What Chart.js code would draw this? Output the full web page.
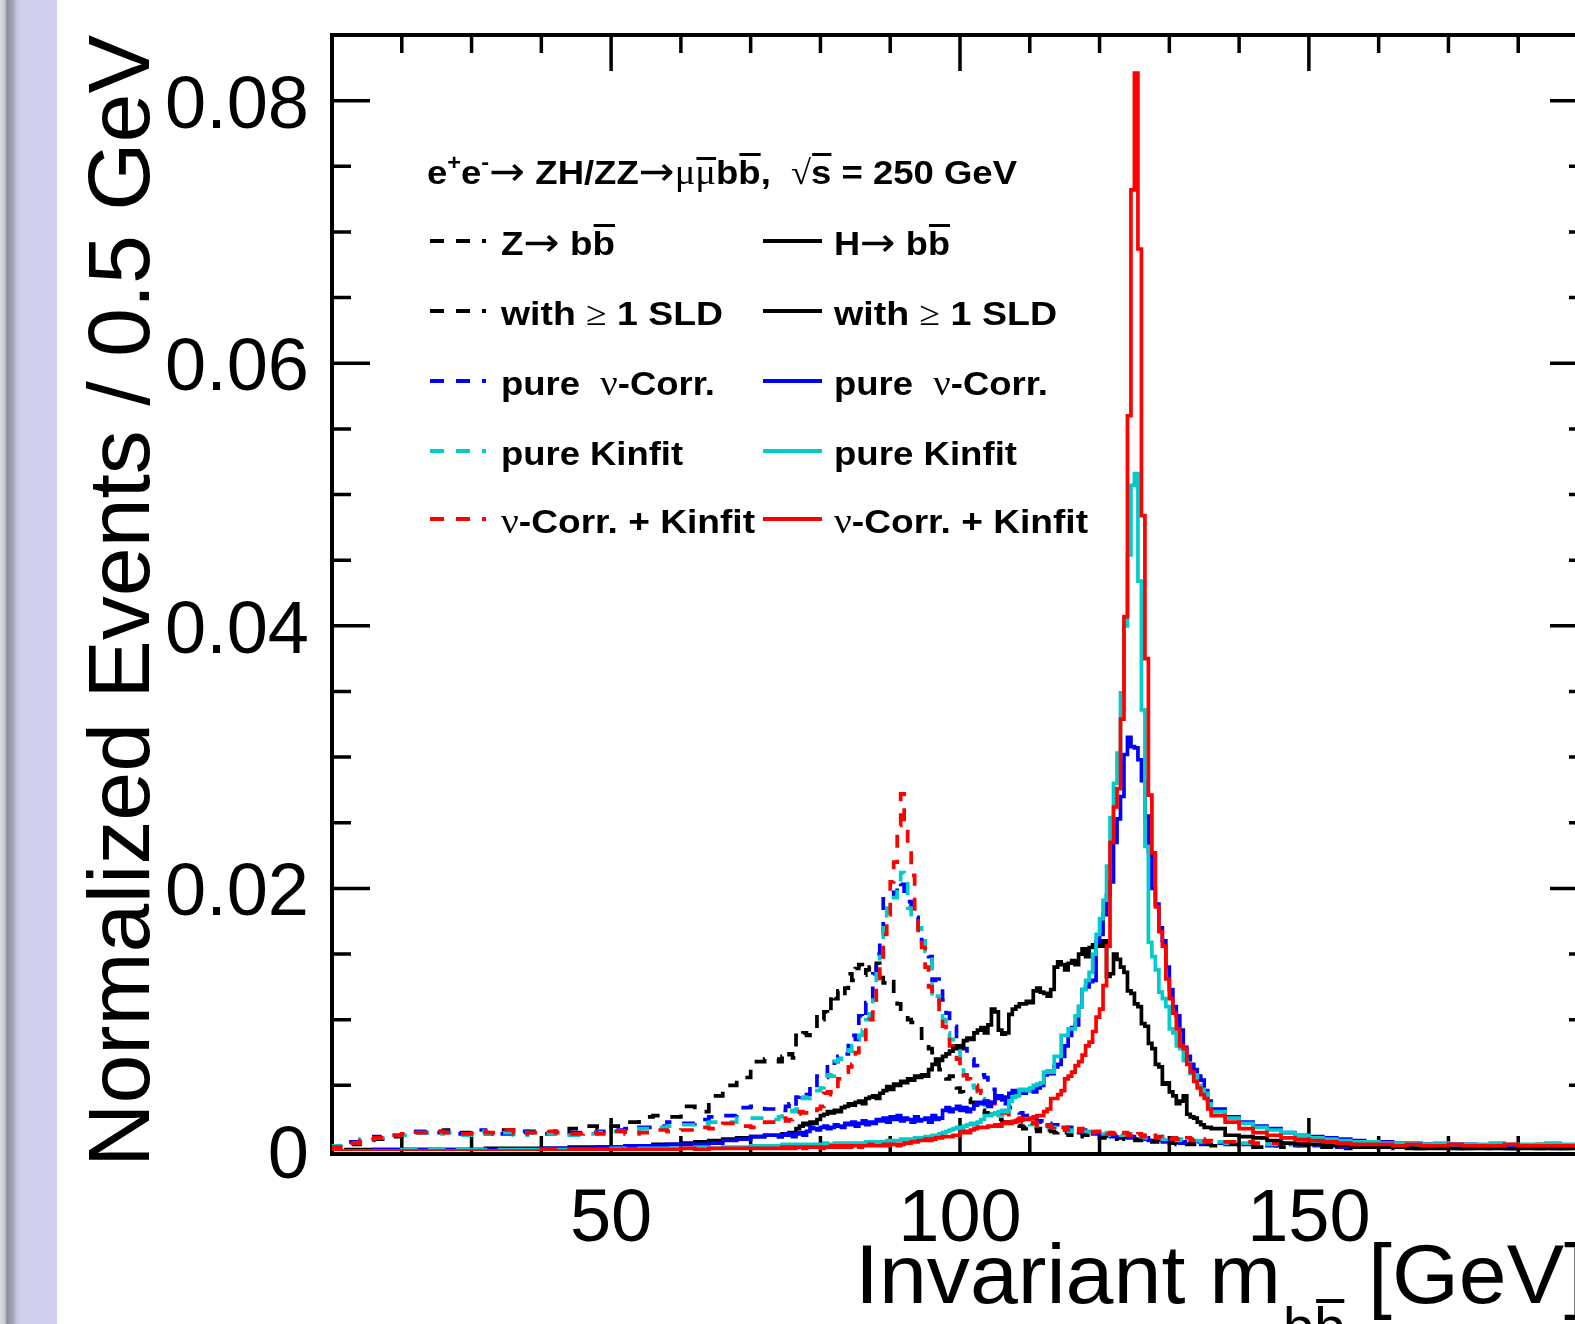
<!DOCTYPE html>
<html><head><meta charset="utf-8">
<script src="https://cdn.jsdelivr.net/npm/chart.js@4/dist/chart.umd.min.js"></script>
<style>
html,body{margin:0;padding:0;background:#fff;overflow:hidden;width:1575px;height:1324px;}
#strip{position:absolute;left:0;top:0;width:57px;height:1324px;background:linear-gradient(to right,#dcdce4 0px,#c8c8d0 5px,#8c8c9a 7px,#a6a6b8 13px,#c6c6e4 17px,#d0d0ee 21px,#d0d0ee 57px);}
#c{position:absolute;left:0;top:0;}
</style></head><body>
<div id="strip"></div>
<canvas id="c" width="1620" height="1324"></canvas>
<script>
// ---------------- data (values in units of 1e-4 per 0.5 GeV) ----------------
const UNIT = 1e-4;
// bin layout: [from, to, width] in GeV
const BIN_SEGMENTS = [[10, 74, 2], [74, 136, 0.5], [136, 190, 2]];
const X_MIN = 10, X_MAX = 190, Y_MAX = 0.085;
const Y_TICK_VALUES = [0, 0.02, 0.04, 0.06, 0.08];
const Y_TICK_LABELS = ['0', '0.02', '0.04', '0.06', '0.08'];
const X_TICK_VALUES = [50, 100, 150];
const X_TICK_LABELS = ['50', '100', '150'];

// Z -> bb, with >= 1 SLD (black dashed)
const zSLD = [
  1,3,5,7,9,11,13,14,15,16,14,15,13,16,14,15,13,15,17,19,17,19,22,26,27,26,34,30,42,50,56,68,
  70,68,72,70,74,71,88,86,90,88,
  91,93,104,100,106,103,120,116,122,118,
  124,135,130,139,142,134,138,140,136,143,
  132,128,126,129,118,112,108,106,100,98,
  97,95,86,82,78,75,68,62,58,55,
  57,52,48,45,42,40,37,35,33,31,
  29,28,26,25,24,22,22,21,20,20,
  19,17,18,16,17,15,17,14,16,15,
  14,15,13,14,12,14,13,11,13,12,
  12,11,12,10,11,10,11,9,10,10,
  9,10,8,9,8,9,7,8,7,8,
  7,6,7,6,7,5,6,6,5,6,
  5,5,4,5,
  5,4,5,4,3,4,3,4,3,3,2,3,3,2,3,2,2,3,2,2,2,3,2,2,2,2,2
];
// Z -> bb, pure nu-Corr. (blue dashed)
const zNuCorr = [
  1,4,7,9,11,12,13,15,14,15,13,16,14,13,15,14,14,15,14,14,15,16,17,18,19,22,21,24,26,27,33,34,
  32,33,31,34,36,33,41,42,40,43,
  52,50,57,58,56,66,64,68,72,71,
  74,86,88,85,103,100,113,112,135,150,
  165,192,195,194,197,205,203,198,190,180,
  178,170,160,150,148,130,131,128,115,105,
  97,95,85,82,78,72,70,65,62,58,
  56,50,47,42,41,37,36,33,33,30,
  29,27,27,24,25,22,23,20,21,19,
  20,17,18,16,18,15,16,14,16,13,
  15,13,14,12,13,11,12,11,12,10,
  11,10,11,9,10,9,10,8,9,8,
  9,7,8,8,7,8,6,7,7,6,
  6,7,5,6,
  6,6,5,5,5,4,5,4,4,4,3,4,3,3,4,3,3,3,2,3,3,3,2,3,3,2,3
];
// Z -> bb, pure Kinfit (cyan dashed)
const zKinfit = [
  2,4,6,9,10,12,12,14,13,14,12,15,13,14,12,14,13,14,12,13,14,15,15,17,18,19,20,21,22,22,25,25,
  24,26,28,30,31,30,32,40,41,40,
  42,44,46,48,57,58,57,68,70,75,
  77,76,80,85,88,92,100,110,115,135,
  148,175,185,190,193,200,212,210,185,180,
  177,170,160,152,150,115,118,112,100,90,
  85,80,78,70,57,55,50,48,45,40,
  35,33,30,29,27,27,25,25,23,23,
  22,21,22,20,21,19,20,18,19,18,
  18,16,17,17,15,16,16,14,15,15,
  15,13,14,14,13,14,12,13,13,12,
  12,13,11,12,11,12,10,11,10,10,
  11,9,10,9,10,8,9,9,8,8,
  8,8,7,7,
  7,7,6,6,6,5,5,5,5,5,4,4,4,4,4,4,4,4,4,3,4,4,3,4,3,4,4
];
// Z -> bb, nu-Corr. + Kinfit (red dashed)
const zNuKinfit = [
  1,3,6,8,10,12,13,14,15,14,13,15,14,16,13,14,15,14,13,14,13,15,13,14,16,15,16,18,17,21,19,18,
  22,24,25,23,24,26,28,30,29,31,
  30,31,32,34,44,45,43,46,55,57,
  60,64,66,75,80,82,95,100,115,130,
  145,165,180,205,220,248,272,250,232,210,
  180,165,155,140,125,118,115,105,95,88,
  80,78,70,62,58,55,52,50,46,44,
  43,37,37,32,32,29,29,26,27,24,
  25,22,23,21,22,19,21,19,20,18,
  19,17,18,16,18,16,17,15,17,15,
  16,14,15,13,15,13,14,13,14,12,
  14,12,13,11,13,11,12,10,12,10,
  11,10,11,9,10,9,10,8,10,8,
  9,8,9,7,
  8,7,7,7,6,6,6,6,5,5,5,5,5,5,5,4,5,4,5,4,4,5,4,4,5,4,4
];
// H -> bb, with >= 1 SLD (black solid)
const hSLD = [
  0,0,1,1,1,1,1,1,1,1,1,1,2,2,2,2,2,2,3,3,3,3,4,4,5,5,6,7,8,9,10,11,
  12,11,13,12,14,13,17,19,21,20,
  22,21,24,27,28,30,29,31,30,33,
  34,36,35,37,38,36,40,41,42,40,
  44,46,49,47,51,50,53,52,55,54,
  57,56,58,57,62,66,70,69,72,74,
  76,78,80,79,84,86,85,90,92,94,
  90,96,108,106,92,89,90,104,108,110,
  112,112,114,113,122,124,121,120,118,123,
  140,144,142,138,143,145,142,150,154,148,
  155,157,159,156,160,133,135,150,146,140,
  136,122,120,112,110,97,95,82,78,66,
  64,51,52,45,42,36,38,42,28,26,
  25,22,20,18,
  18,17,12,11,10,8,6,5,5,4,4,3,3,3,3,2,2,2,2,2,2,2,2,2,2,2,2
];
// H -> bb, pure nu-Corr. (blue solid)
const hNuCorr = [
  0,0,0,0,1,1,1,1,1,1,1,1,1,1,1,1,2,2,2,2,3,3,4,4,4,5,5,5,6,8,9,11,
  12,11,12,13,12,11,13,14,12,15,
  18,17,16,18,19,17,18,20,19,18,
  21,20,22,19,21,23,20,22,21,24,
  23,25,22,26,24,27,23,25,24,22,
  26,23,24,25,22,27,24,25,31,33,
  30,32,34,31,33,30,32,35,37,36,
  38,34,37,40,42,39,41,44,46,43,
  44,44,46,47,45,48,50,58,60,59,
  64,66,72,80,88,94,96,110,123,125,
  129,130,159,165,180,195,205,235,253,270,
  302,315,308,307,298,282,255,228,200,188,
  170,160,140,123,110,103,92,79,72,66,
  62,57,54,46,
  38,32,26,22,19,17,14,12,11,10,9,8,7,7,6,6,5,5,5,5,4,4,4,4,4,4,4
];
// H -> bb, pure Kinfit (cyan solid)
const hKinfit = [
  0,0,0,0,0,0,1,0,1,0,1,1,0,1,1,1,1,1,1,1,1,2,1,2,2,2,2,3,2,3,3,4,
  4,4,5,4,5,5,4,5,5,4,
  5,5,4,5,6,5,5,6,5,6,
  5,6,6,5,6,6,7,6,7,6,
  7,7,8,7,8,8,9,8,9,9,
  10,9,10,11,10,12,11,13,14,15,
  16,17,18,17,19,20,21,20,22,24,
  27,27,28,29,30,31,30,38,41,42,
  47,47,46,48,50,51,52,60,61,60,
  72,72,88,88,93,93,103,110,123,130,
  136,150,165,177,191,217,254,280,303,349,
  400,454,507,516,434,336,232,159,148,138,
  121,116,110,93,90,80,78,69,67,59,
  58,50,47,44,
  36,30,25,21,18,16,14,12,10,9,8,7,7,6,6,6,5,6,5,5,5,6,5,5,5,6,5
];
// H -> bb, nu-Corr. + Kinfit (red solid)
const hNuKinfit = [
  0,0,0,0,0,0,0,0,0,0,0,0,0,0,0,0,1,0,1,1,1,1,1,1,1,1,2,1,2,2,2,2,
  2,2,3,2,3,2,3,3,2,3,
  3,3,3,2,3,3,4,3,4,3,
  4,3,4,4,3,4,4,5,4,4,
  4,5,4,5,5,4,5,6,6,7,
  7,8,8,9,8,9,10,10,11,11,
  11,12,12,14,15,14,16,17,18,18,
  18,19,19,20,19,21,22,21,22,23,
  24,24,24,25,26,27,27,30,32,40,
  40,43,46,55,57,60,65,68,73,80,
  83,91,102,108,126,156,235,262,276,329,
  407,560,732,821,687,484,375,271,227,186,
  167,156,131,116,105,93,80,78,66,60,
  53,48,43,40,
  32,27,22,17,14,12,10,9,8,7,6,5,5,5,4,5,4,4,5,4,4,4,5,4,4,4,4
];

// ---------------- styling ----------------
const CYAN = 'rgb(0,204,204)';
const SERIES = [
  {label: 'Z→bb̄ with ≥1 SLD',        values: zSLD,      color: '#000000', dashed: true,  order: 8},
  {label: 'Z→bb̄ pure ν-Corr.',       values: zNuCorr,   color: '#0000ff', dashed: true,  order: 7},
  {label: 'Z→bb̄ pure Kinfit',        values: zKinfit,   color: CYAN,      dashed: true,  order: 6},
  {label: 'Z→bb̄ ν-Corr. + Kinfit',   values: zNuKinfit, color: '#ff0000', dashed: true,  order: 5},
  {label: 'H→bb̄ with ≥1 SLD',        values: hSLD,      color: '#000000', dashed: false, order: 4},
  {label: 'H→bb̄ pure ν-Corr.',       values: hNuCorr,   color: '#0000ff', dashed: false, order: 3},
  {label: 'H→bb̄ pure Kinfit',        values: hKinfit,   color: CYAN,      dashed: false, order: 2},
  {label: 'H→bb̄ ν-Corr. + Kinfit',   values: hNuKinfit, color: '#ff0000', dashed: false, order: 1}
];
const DASH = [13, 12];
const LEG_DASH = [14, 12];

// bin edges from layout
const edges = [];
BIN_SEGMENTS.forEach(([a, b, w]) => { for (let x = a; x < b - 1e-9; x += w) edges.push(+x.toFixed(3)); });
edges.push(X_MAX);
const nBins = edges.length - 1;

function histPoints(vals, name) {
  if (vals.length !== nBins) throw new Error('series ' + name + ' has ' + vals.length + ' bins, expected ' + nBins);
  const pts = vals.map((v, i) => ({x: edges[i], y: v * UNIT}));
  pts.push({x: edges[nBins], y: vals[nBins - 1] * UNIT});
  return pts;
}

const datasets = SERIES.map(s => ({
  label: s.label,
  data: histPoints(s.values, s.label),
  borderColor: s.color,
  borderWidth: 3.7,
  borderDash: s.dashed ? DASH : [],
  borderCapStyle: 'butt',
  borderJoinStyle: 'miter',
  stepped: 'after',
  fill: false,
  pointRadius: 0,
  tension: 0,
  order: s.order
}));

// ---------------- text helpers ----------------
const SANS = '"Liberation Sans", Arial, Helvetica, sans-serif';
const SERIF = '"Liberation Serif", "DejaVu Serif", serif';
const FB = 'bold 34px ' + SANS;
const FS = '34px ' + SERIF;
const FG = '36px ' + SERIF;
const FA = '40px "DejaVu Sans", sans-serif';
const FSUP = 'bold 22px ' + SANS;

function drawRuns(ctx, x, y, runs, target) {
  const widths = runs.map(r => { ctx.font = r.f; return ctx.measureText(r.t).width; });
  const total = widths.reduce((a, b) => a + b, 0);
  const sx = target ? target / total : 1;
  ctx.save();
  ctx.translate(x, y);
  ctx.scale(sx, 1);
  let cx = 0;
  runs.forEach((r, i) => {
    ctx.font = r.f;
    ctx.fillText(r.t, cx, r.dy || 0);
    if (r.over) ctx.fillRect(cx + 1, -(r.oy || 31), widths[i] - 1, 3);
    cx += widths[i];
  });
  ctx.restore();
}
function fitText(ctx, text, x, y, font, target, align) {
  ctx.font = font;
  const w = ctx.measureText(text).width;
  const sx = target / w;
  ctx.save();
  ctx.translate(x, y);
  ctx.scale(sx, 1);
  ctx.textAlign = align || 'left';
  ctx.fillText(text, 0, 0);
  ctx.restore();
}

const ARROW = {t: '→', f: FA, dy: 1};
const LEGEND_TITLE = [
  {t: 'e', f: FB}, {t: '+', f: FSUP, dy: -14}, {t: 'e', f: FB}, {t: '-', f: FSUP, dy: -15},
  ARROW, {t: ' ZH/ZZ', f: FB}, ARROW, {t: 'μ', f: FG}, {t: 'μ', f: FG, over: true, oy: 27},
  {t: 'b', f: FB}, {t: 'b', f: FB, over: true}, {t: ',  ', f: FB}, {t: '√', f: FS}, {t: 's', f: FB, over: true, oy: 31},
  {t: ' = 250 GeV', f: FB}
];
const LEG_ROWS = [
  {color: '#000000', left: [{t: 'Z', f: FB}, ARROW, {t: ' b', f: FB}, {t: 'b', f: FB, over: true}], lw: 114,
                     right: [{t: 'H', f: FB}, ARROW, {t: ' b', f: FB}, {t: 'b', f: FB, over: true}], rw: 116},
  {color: '#000000', left: [{t: 'with ', f: FB}, {t: '≥', f: FS}, {t: ' 1 SLD', f: FB}], lw: 222,
                     right: [{t: 'with ', f: FB}, {t: '≥', f: FS}, {t: ' 1 SLD', f: FB}], rw: 223},
  {color: '#0000ff', left: [{t: 'pure  ', f: FB}, {t: 'ν', f: FG}, {t: '-Corr.', f: FB}], lw: 214,
                     right: [{t: 'pure  ', f: FB}, {t: 'ν', f: FG}, {t: '-Corr.', f: FB}], rw: 214},
  {color: CYAN,      left: [{t: 'pure Kinfit', f: FB}], lw: 182,
                     right: [{t: 'pure Kinfit', f: FB}], rw: 183},
  {color: '#ff0000', left: [{t: 'ν', f: FG}, {t: '-Corr. + Kinfit', f: FB}], lw: 254,
                     right: [{t: 'ν', f: FG}, {t: '-Corr. + Kinfit', f: FB}], rw: 254}
];
const LEG_BASELINES = [255, 325, 395, 465, 533];

const framePlugin = {
  id: 'rootFrame',
  beforeDatasetsDraw(chart) {
    const {ctx, chartArea: a, scales: {x, y}} = chart;
    ctx.save();
    ctx.strokeStyle = '#000';
    ctx.fillStyle = '#000';
    ctx.lineCap = 'butt';
    // frame
    ctx.lineWidth = 4;
    ctx.strokeRect(a.left, a.top, a.right - a.left, a.bottom + 3 - a.top);
    // y ticks (major every 0.02, minor every 0.005)
    ctx.lineWidth = 3.5;
    for (let k = 1; k * 0.005 <= Y_MAX + 1e-9; k++) {
      const py = y.getPixelForValue(k * 0.005);
      const L = (k % 4 === 0) ? 38 : 19;
      ctx.beginPath();
      ctx.moveTo(a.left, py); ctx.lineTo(a.left + L, py);
      ctx.moveTo(a.right, py); ctx.lineTo(a.right - L, py);
      ctx.stroke();
    }
    // x ticks (major every 50, minor every 10)
    for (let g = X_MIN + 10; g < X_MAX; g += 10) {
      const px = x.getPixelForValue(g);
      const L = (g % 50 === 0) ? 36 : 18;
      ctx.beginPath();
      ctx.moveTo(px, a.bottom + 3); ctx.lineTo(px, a.bottom + 3 - L);
      ctx.moveTo(px, a.top); ctx.lineTo(px, a.top + L);
      ctx.stroke();
    }
    // tick labels
    ctx.font = '74px ' + SANS;
    ctx.textBaseline = 'alphabetic';
    ctx.textAlign = 'right';
    Y_TICK_VALUES.forEach((v, i) => ctx.fillText(Y_TICK_LABELS[i], 309, y.getPixelForValue(v) + 27));
    ctx.textAlign = 'center';
    X_TICK_VALUES.forEach((v, i) => ctx.fillText(X_TICK_LABELS[i], x.getPixelForValue(v), 1241));
    // axis titles
    ctx.textAlign = 'left';
    fitText(ctx, 'Invariant m', 855, 1303, '84px ' + SANS, 426);
    ctx.font = '56px ' + SANS;
    const wb = ctx.measureText('b').width;
    ctx.fillText('b', 1283, 1346);
    ctx.fillText('b', 1283 + wb, 1346);
    ctx.fillRect(1283 + wb + 2, 1299, wb - 3, 4);
    fitText(ctx, '[GeV]', 1368, 1303, '84px ' + SANS, 220);
    ctx.save();
    ctx.translate(149, 35);
    ctx.rotate(-Math.PI / 2);
    fitText(ctx, 'Normalized Events / 0.5 GeV', 0, 0, '88px ' + SANS, 1132, 'right');
    ctx.restore();
    // legend
    drawRuns(ctx, 427, 184, LEGEND_TITLE, 590);
    LEG_ROWS.forEach((r, i) => {
      const by = LEG_BASELINES[i];
      const ly = by - 14;
      ctx.strokeStyle = r.color;
      ctx.lineWidth = 3.8;
      ctx.setLineDash(LEG_DASH);
      ctx.beginPath(); ctx.moveTo(430, ly); ctx.lineTo(486, ly); ctx.stroke();
      ctx.setLineDash([]);
      ctx.beginPath(); ctx.moveTo(763, ly); ctx.lineTo(822, ly); ctx.stroke();
      ctx.fillStyle = '#000';
      drawRuns(ctx, 501, by, r.left, r.lw);
      drawRuns(ctx, 834, by, r.right, r.rw);
    });
    ctx.restore();
  }
};

new Chart(document.getElementById('c').getContext('2d'), {
  type: 'line',
  data: {datasets},
  options: {
    responsive: false,
    animation: false,
    devicePixelRatio: 1,
    layout: {padding: {left: 0, top: 35, right: 32, bottom: 0}},
    plugins: {legend: {display: false}, tooltip: {enabled: false}},
    elements: {point: {radius: 0}},
    scales: {
      x: {type: 'linear', min: X_MIN, max: X_MAX, grid: {display: false}, border: {display: false},
          ticks: {display: false}, afterFit(s) { s.height = 173; }},
      y: {type: 'linear', min: 0, max: Y_MAX, grid: {display: false}, border: {display: false},
          ticks: {display: false}, afterFit(s) { s.width = 332; }}
    }
  },
  plugins: [framePlugin]
});
</script>
</body></html>
